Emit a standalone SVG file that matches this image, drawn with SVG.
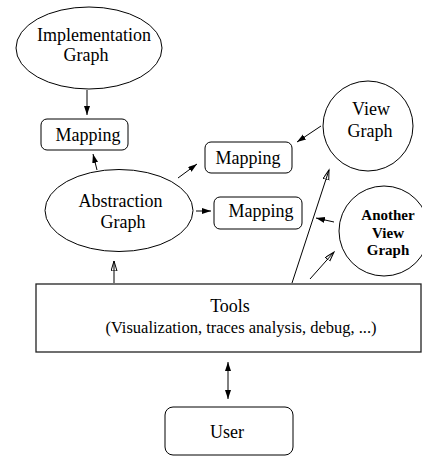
<svg xmlns="http://www.w3.org/2000/svg" width="422" height="457" viewBox="0 0 422 457">
  <style>
    .shape { fill: none; stroke: #000; stroke-width: 1; }
    .label { font-family: "Liberation Serif", "Times New Roman", serif; font-size: 18px; fill: #000; text-anchor: middle; }
    .small { font-size: 16.5px; }
    .bold { font-weight: bold; font-size: 15px; }
    .edge { fill: none; stroke: #000; stroke-width: 1; }
    .solid { marker-end: url(#arrowSolid); }
    .hollow { marker-end: url(#arrowHollow); }
  </style>
  <defs>
    <marker id="arrowSolid" markerUnits="userSpaceOnUse" markerWidth="10" markerHeight="8" refX="9" refY="3" orient="auto-start-reverse">
      <path d="M0,0 L9,3 L0,6 Z" fill="#000"/>
    </marker>
    <marker id="arrowHollow" markerUnits="userSpaceOnUse" markerWidth="12" markerHeight="8" refX="10" refY="3" orient="auto">
      <path d="M0,0 L10,3 L0,6 Z" fill="none" stroke="#000" stroke-width="1"/>
    </marker>
  </defs>

  <g id="implementation-graph">
    <ellipse class="shape" cx="89" cy="48" rx="73" ry="41"/>
    <text class="label" x="94" y="40.5">Implementation</text>
    <text class="label" x="86" y="61">Graph</text>
  </g>

  <g id="mapping-impl">
    <rect class="shape" x="41" y="119" width="87" height="31" rx="6"/>
    <text class="label" x="88" y="141">Mapping</text>
  </g>

  <g id="abstraction-graph">
    <ellipse class="shape" cx="119" cy="210.5" rx="74" ry="41"/>
    <text class="label" x="120.5" y="207">Abstraction</text>
    <text class="label" x="123" y="228">Graph</text>
  </g>

  <g id="mapping-view">
    <rect class="shape" x="205" y="142" width="87" height="31" rx="6"/>
    <text class="label" x="248" y="164">Mapping</text>
  </g>

  <g id="view-graph">
    <circle class="shape" cx="368" cy="126" r="45"/>
    <text class="label" x="371" y="115">View</text>
    <text class="label" x="370" y="137">Graph</text>
  </g>

  <g id="mapping-another">
    <rect class="shape" x="214" y="197" width="88" height="32" rx="6"/>
    <text class="label" x="261" y="217">Mapping</text>
  </g>

  <g id="another-view-graph">
    <circle class="shape" cx="384" cy="231" r="45"/>
    <text class="label bold" x="388" y="220">Another</text>
    <text class="label bold" x="388" y="238">View</text>
    <text class="label bold" x="388" y="255">Graph</text>
  </g>

  <g id="tools">
    <rect x="36" y="284" width="385" height="68" fill="none" stroke="#222" stroke-width="1.3"/>
    <text class="label" x="230" y="312">Tools</text>
    <text class="label small" x="241" y="333">(Visualization, traces analysis, debug, ...)</text>
  </g>

  <g id="user">
    <rect class="shape" x="165" y="407" width="128" height="48" rx="8"/>
    <text class="label" x="227" y="438">User</text>
  </g>

  <g id="connectors">
    <line class="edge solid" x1="87" y1="90" x2="87" y2="115"/>
    <line class="edge solid" x1="97" y1="170" x2="93" y2="154"/>
    <line class="edge solid" x1="178" y1="178" x2="197" y2="164"/>
    <line class="edge solid" x1="196" y1="211" x2="211" y2="211"/>
    <line class="edge solid" x1="321" y1="126" x2="297" y2="142"/>
    <line class="edge solid" x1="334" y1="222" x2="316" y2="218"/>
    <line class="edge hollow" x1="292" y1="283" x2="329" y2="170"/>
    <line class="edge hollow" x1="310" y1="279" x2="334" y2="252"/>
    <line class="edge hollow" x1="114" y1="283" x2="114" y2="261"/>
    <line class="edge solid" x1="228" y1="362" x2="228" y2="399" marker-start="url(#arrowSolid)"/>
  </g>
</svg>
